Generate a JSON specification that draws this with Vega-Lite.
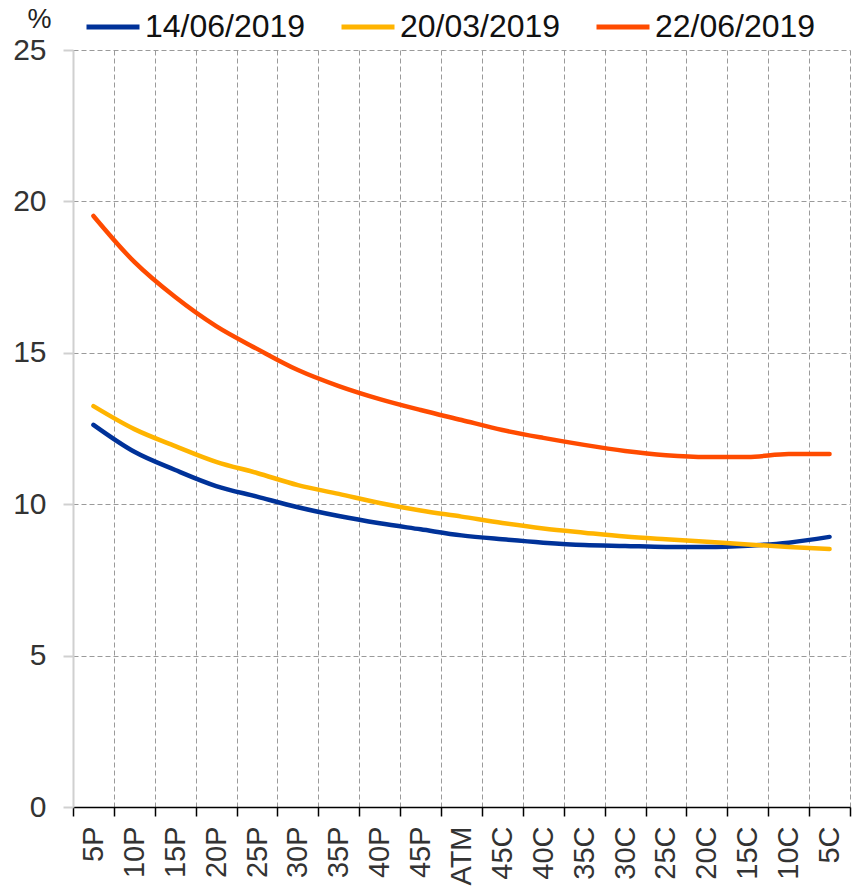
{
  "$schema": "https://vega.github.io/schema/vega-lite/v6.json",
  "width": 777,
  "height": 757,
  "autosize": {"type": "none"},
  "padding": {"left": 73, "top": 50, "right": 6, "bottom": 86},
  "background": "white",
  "config": {
    "view": {"stroke": null},
    "font": "Liberation Sans"
  },
  "data": {
    "values": [
      {"k": "5P", "s": "14/06/2019", "v": 12.62},
      {"k": "10P", "s": "14/06/2019", "v": 11.73},
      {"k": "15P", "s": "14/06/2019", "v": 11.13},
      {"k": "20P", "s": "14/06/2019", "v": 10.6},
      {"k": "25P", "s": "14/06/2019", "v": 10.25},
      {"k": "30P", "s": "14/06/2019", "v": 9.9},
      {"k": "35P", "s": "14/06/2019", "v": 9.61},
      {"k": "40P", "s": "14/06/2019", "v": 9.37},
      {"k": "45P", "s": "14/06/2019", "v": 9.17},
      {"k": "ATM", "s": "14/06/2019", "v": 8.97},
      {"k": "45C", "s": "14/06/2019", "v": 8.84},
      {"k": "40C", "s": "14/06/2019", "v": 8.73},
      {"k": "35C", "s": "14/06/2019", "v": 8.65},
      {"k": "30C", "s": "14/06/2019", "v": 8.62},
      {"k": "25C", "s": "14/06/2019", "v": 8.59},
      {"k": "20C", "s": "14/06/2019", "v": 8.59},
      {"k": "15C", "s": "14/06/2019", "v": 8.63},
      {"k": "10C", "s": "14/06/2019", "v": 8.73},
      {"k": "5C", "s": "14/06/2019", "v": 8.92},
      {"k": "5P", "s": "20/03/2019", "v": 13.24},
      {"k": "10P", "s": "20/03/2019", "v": 12.48},
      {"k": "15P", "s": "20/03/2019", "v": 11.92},
      {"k": "20P", "s": "20/03/2019", "v": 11.4},
      {"k": "25P", "s": "20/03/2019", "v": 11.03},
      {"k": "30P", "s": "20/03/2019", "v": 10.63},
      {"k": "35P", "s": "20/03/2019", "v": 10.34},
      {"k": "40P", "s": "20/03/2019", "v": 10.04},
      {"k": "45P", "s": "20/03/2019", "v": 9.79},
      {"k": "ATM", "s": "20/03/2019", "v": 9.59},
      {"k": "45C", "s": "20/03/2019", "v": 9.38},
      {"k": "40C", "s": "20/03/2019", "v": 9.2},
      {"k": "35C", "s": "20/03/2019", "v": 9.06},
      {"k": "30C", "s": "20/03/2019", "v": 8.93},
      {"k": "25C", "s": "20/03/2019", "v": 8.84},
      {"k": "20C", "s": "20/03/2019", "v": 8.76},
      {"k": "15C", "s": "20/03/2019", "v": 8.67},
      {"k": "10C", "s": "20/03/2019", "v": 8.59},
      {"k": "5C", "s": "20/03/2019", "v": 8.52},
      {"k": "5P", "s": "22/06/2019", "v": 19.52},
      {"k": "10P", "s": "22/06/2019", "v": 18.0},
      {"k": "15P", "s": "22/06/2019", "v": 16.84},
      {"k": "20P", "s": "22/06/2019", "v": 15.88},
      {"k": "25P", "s": "22/06/2019", "v": 15.13},
      {"k": "30P", "s": "22/06/2019", "v": 14.43},
      {"k": "35P", "s": "22/06/2019", "v": 13.9},
      {"k": "40P", "s": "22/06/2019", "v": 13.47},
      {"k": "45P", "s": "22/06/2019", "v": 13.11},
      {"k": "ATM", "s": "22/06/2019", "v": 12.78},
      {"k": "45C", "s": "22/06/2019", "v": 12.45},
      {"k": "40C", "s": "22/06/2019", "v": 12.19},
      {"k": "35C", "s": "22/06/2019", "v": 11.96},
      {"k": "30C", "s": "22/06/2019", "v": 11.76},
      {"k": "25C", "s": "22/06/2019", "v": 11.62},
      {"k": "20C", "s": "22/06/2019", "v": 11.56},
      {"k": "15C", "s": "22/06/2019", "v": 11.56},
      {"k": "10C", "s": "22/06/2019", "v": 11.66},
      {"k": "5C", "s": "22/06/2019", "v": 11.66}
    ]
  },
  "mark": {"type": "line", "strokeWidth": 4.5, "strokeCap": "round", "interpolate": "monotone"},
  "encoding": {
    "x": {
      "field": "k",
      "type": "nominal",
      "bandPosition": 0.5,
      "sort": ["5P","10P","15P","20P","25P","30P","35P","40P","45P","ATM","45C","40C","35C","30C","25C","20C","15C","10C","5C"],
      "scale": {"type": "band", "paddingInner": 0, "paddingOuter": 0},
      "axis": {
        "title": null,
        "labelAngle": -90,
        "labelAlign": "right",
        "labelBaseline": "middle",
        "labelFontSize": 29,
        "labelColor": "#333333",
        "labelPadding": 10,
        "tickBand": "extent",
        "grid": true,
        "gridColor": "#9a9a9a",
        "gridDash": [5, 3],
        "gridWidth": 1,
        "domainColor": "#000000",
        "domainWidth": 1.5,
        "tickColor": "#000000",
        "tickWidth": 1.5,
        "tickSize": 9
      }
    },
    "y": {
      "field": "v",
      "type": "quantitative",
      "scale": {"domain": [0, 25], "nice": false, "zero": true},
      "axis": {
        "title": "%",
        "titleAngle": 0,
        "titleX": -34,
        "titleY": -31,
        "titleAlign": "center",
        "titleBaseline": "middle",
        "titleFontSize": 27,
        "titleFontWeight": "normal",
        "titleColor": "#222222",
        "values": [0, 5, 10, 15, 20, 25],
        "labelFontSize": 30,
        "labelColor": "#333333",
        "labelPadding": 17,
        "grid": true,
        "gridColor": "#9a9a9a",
        "gridDash": [5, 3],
        "gridWidth": 1,
        "domainColor": "#d0d0d0",
        "domainWidth": 2,
        "tickColor": "#d0d0d0",
        "tickWidth": 2,
        "tickSize": 10
      }
    },
    "color": {
      "field": "s",
      "type": "nominal",
      "scale": {"domain": ["14/06/2019", "20/03/2019", "22/06/2019"], "range": ["#003299", "#ffb400", "#ff4b00"]},
      "legend": {
        "title": null,
        "orient": "none",
        "direction": "horizontal",
        "legendX": 11,
        "legendY": -52,
        "padding": 0,
        "symbolType": "stroke",
        "symbolSize": 2809,
        "symbolStrokeWidth": 5,
        "labelFontSize": 32,
        "labelColor": "#111111",
        "labelOffset": 3,
        "columnPadding": 25,
        "labelLimit": 400
      }
    }
  }
}
